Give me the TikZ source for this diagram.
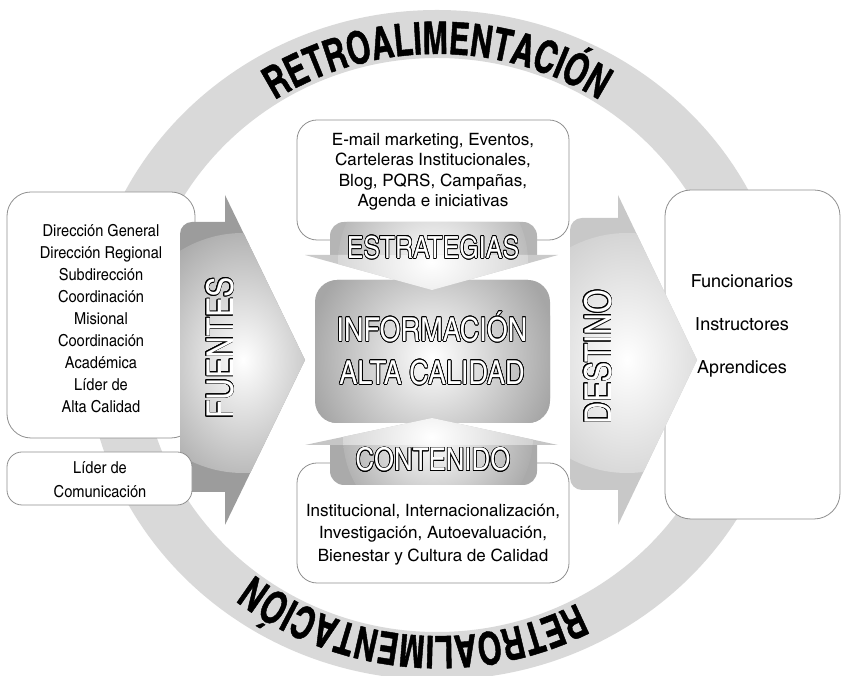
\documentclass[tikz,border=0pt]{standalone}
\usepackage{fontspec}
\setmainfont{texgyreheroscn}[Extension=.otf,UprightFont=*-regular,BoldFont=*-bold,FakeStretch=1.08]
\newfontfamily\widefont{texgyreheroscn}[Extension=.otf,UprightFont=*-regular,FakeStretch=1.22]
\newfontfamily\retrofont{texgyreheroscn}[Extension=.otf,UprightFont=*-bold,FakeStretch=0.83,FakeBold=1]
\newfontfamily\huecofont{texgyreheroscn}[Extension=.otf,UprightFont=*-regular]
\usepackage{contour}
\usetikzlibrary{decorations.text}
\contourlength{0.7pt}
\definecolor{ring}{HTML}{D9D9D9}
\definecolor{boxline}{HTML}{8F8F8F}
\definecolor{fuente}{HTML}{9C9C9C}
\definecolor{destino}{HTML}{C8C8C8}
\definecolor{infogray}{HTML}{A6A6A6}
\definecolor{estshaft}{HTML}{B5B5B5}
\definecolor{esthead}{HTML}{CACACA}
\definecolor{conshaft}{HTML}{AAAAAA}
\definecolor{conhead}{HTML}{C6C6C6}
\newcommand{\hueco}[1]{\contour{black}{\textcolor{white}{#1}}}% letras huecas
\begin{document}
\begin{tikzpicture}[x=1pt,y=1pt,line join=round,
    txtbox/.style={draw=boxline,fill=white,line width=0.8pt,rounded corners=20pt},
    glow/.style n args={3}{path picture={\shade[inner color=white,outer color=#2] #1 circle (#3);}},
    body/.style={font=\fontsize{16.5}{#1}\selectfont,align=center},
    wide/.style 2 args={font=\widefont\fontsize{#1}{#2}\selectfont,align=center},
    hollow/.style={font=\huecofont\fontsize{#1}{43}\selectfont,inner sep=0pt,anchor=base}]
\useasboundingbox (0,0) rectangle (842,676);
\def\ox{437} \def\oy{331} % centro del anillo
% anillo de retroalimentacion
\fill[ring,even odd rule] (\ox,\oy) ellipse [x radius=351,y radius=335]
  (\ox,\oy) ellipse [x radius=296,y radius=287];
\path[decorate,decoration={text along path,text align=center,
  text={|\retrofont\fontsize{45}{45}\selectfont|RETROALIMENTACIÓN}}]
  (\ox,\oy) ++(135:300 and 291) arc[start angle=135,end angle=45,x radius=300,y radius=291];
\begin{scope}[rotate around={175:(\ox,\oy)}]
\path[decorate,decoration={text along path,text align=center,
  text={|\retrofont\fontsize{45}{45}\selectfont|RETROALIMENTACIÓN}}]
  (\ox,\oy) ++(135:300 and 291) arc[start angle=135,end angle=45,x radius=300,y radius=291];
\end{scope}
% cajas blancas
\draw[txtbox] (297,436) rectangle (569,556);
\draw[txtbox] (297,93) rectangle (569,213);
\draw[txtbox,rounded corners=24pt] (7,238) rectangle (195,484);
\draw[txtbox,rounded corners=26pt] (665,157) rectangle (840,486);
% informacion central
\fill[infogray,glow={(432,319)}{infogray}{125},rounded corners=22pt] (315,253) rectangle (550,396);
% estrategias (baja) y contenido (sube)
\fill[estshaft,glow={(433,414)}{estshaft}{95}] (330,421) -- (330,440) arc[start angle=180,end angle=90,radius=14]
  -- (523,454) arc[start angle=90,end angle=0,radius=14] -- (537,421) -- cycle;
\fill[esthead,glow={(433,414)}{esthead}{95}] (305,421) -- (558,421) -- (432,386) -- cycle;
\fill[conshaft,glow={(438,239)}{conshaft}{95}] (330,231) -- (330,205) arc[start angle=180,end angle=270,radius=14]
  -- (523,191) arc[start angle=270,end angle=360,radius=14] -- (537,231) -- cycle;
\fill[conhead,glow={(438,239)}{conhead}{95}] (305,231) -- (558,231) -- (432,258) -- cycle;
% fuentes
\fill[fuente,glow={(243,323)}{fuente}{120}] (192,184) -- (225,184) -- (225,151) -- (305,316) -- (225,481)
  -- (225,454) -- (192,454) arc[start angle=90,end angle=180,radius=12]
  -- (180,196) arc[start angle=180,end angle=270,radius=12] -- cycle;
\draw[txtbox,rounded corners=15pt] (7,171) rectangle (192,224);
% destino
\fill[destino,glow={(627,323)}{destino}{120}] (582,186) -- (618,186) -- (618,151) -- (697,316) -- (618,481)
  -- (618,458) -- (582,458) arc[start angle=90,end angle=180,radius=12]
  -- (570,198) arc[start angle=180,end angle=270,radius=12] -- cycle;
% textos
\node[wide={17}{20.5}] (medios) at (433,504) {E-mail marketing, Eventos,\\Carteleras Institucionales,\\Blog, PQRS, Campañas,\\Agenda e iniciativas};
\node[wide={17}{22.5}] (temas) at (433,141.5) {Institucional, Internacionalización,\\Investigación, Autoevaluación,\\Bienestar y Cultura de Calidad};
\node[body=22] (emisores) at (101,357) {Dirección General\\Dirección Regional\\Subdirección\\Coordinación\\Misional\\Coordinación\\Académica\\Líder de\\Alta Calidad};
\node[body=24] (lider) at (100,196.5) {Líder de\\Comunicación};
\node[wide={18}{43}] (publico) at (742,350) {Funcionarios\\Instructores\\Aprendices};
\node[hollow=30.5] (estrategias) at (433,417.5) {\hueco{ESTRATEGIAS}};
\node[hollow=31.5] (contenido) at (433,205) {\hueco{CONTENIDO}};
\node[hollow=33] (informacion) at (432,334.5) {\hueco{INFORMACIÓN}};
\node[hollow=33] (calidad) at (432,291.5) {\hueco{ALTA CALIDAD}};
\node[hollow=37,rotate=90] (fuentes) at (233,328) {\hueco{FUENTES}};
\node[hollow=37,rotate=90] (destinotxt) at (611,319) {\hueco{DESTINO}};
\end{tikzpicture}
\end{document}
